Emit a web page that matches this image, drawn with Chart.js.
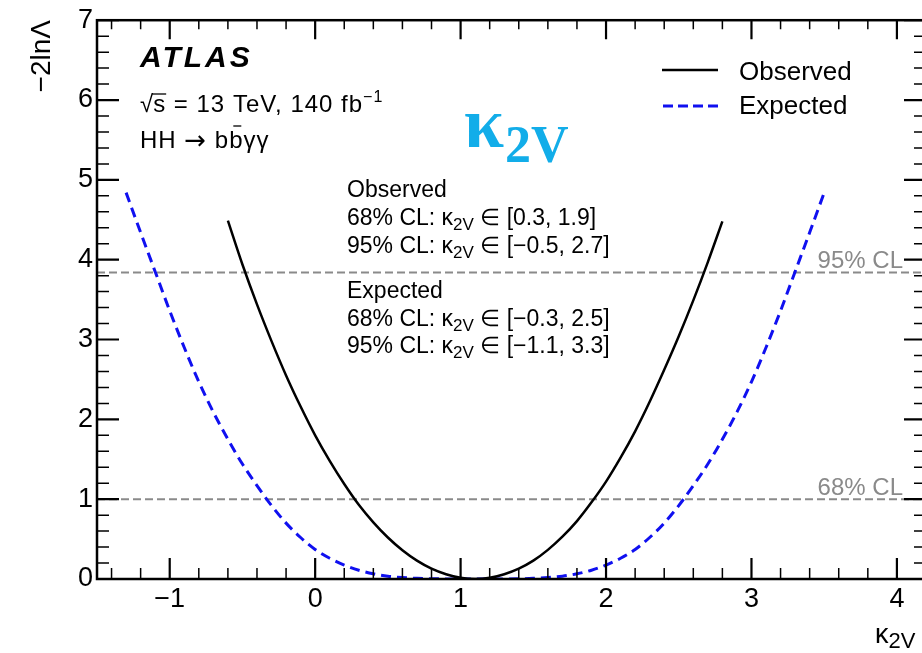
<!DOCTYPE html>
<html>
<head>
<meta charset="utf-8">
<title>kappa_2V likelihood scan</title>
<script src="https://cdn.jsdelivr.net/npm/chart.js@4"></script>
<style>
  html, body { margin: 0; padding: 0; background: #fff; overflow: hidden; }
  #wrap { position: relative; width: 930px; height: 653px; }
</style>
</head>
<body>
<div id="wrap"><canvas id="scan"></canvas></div>
<script>
// observed scan, -2lnL vs k2V
const kappaObs = [-0.6, -0.5, -0.4, -0.3, -0.2, -0.1, 0.0, 0.1, 0.2, 0.3, 0.4, 0.5, 0.6, 0.7, 0.8, 0.9, 1.0, 1.1,
  1.2, 1.3, 1.4, 1.5, 1.6, 1.7, 1.8, 1.9, 2.0, 2.1, 2.2, 2.3, 2.4, 2.5, 2.6, 2.7, 2.8];
const nllObs = [4.49, 3.94, 3.44, 2.98, 2.55, 2.16, 1.80, 1.48, 1.19, 0.93, 0.71, 0.52, 0.36, 0.23, 0.13, 0.06, 0.015, 0.0,
  0.015, 0.06, 0.13, 0.23, 0.365, 0.53, 0.725, 0.96, 1.22, 1.52, 1.85, 2.22, 2.62, 3.04, 3.49, 3.97, 4.48];

// expected scan (Asimov)
const kappaExp = [-1.3, -1.2, -1.1, -1.0, -0.9, -0.8, -0.7, -0.6, -0.5, -0.4, -0.3, -0.2, -0.1, 0.0, 0.1, 0.2, 0.3, 0.4,
  0.5, 0.6, 0.7, 0.8, 0.9, 1.0, 1.1, 1.2, 1.3, 1.4, 1.5, 1.6, 1.7, 1.8, 1.9, 2.0, 2.1, 2.2, 2.3, 2.4, 2.5, 2.6, 2.7,
  2.8, 2.9, 3.0, 3.1, 3.2, 3.3, 3.4, 3.5];
const nllExp = [4.84, 4.34, 3.85, 3.36, 2.90, 2.47, 2.09, 1.75, 1.44, 1.17, 0.92, 0.70, 0.52, 0.37, 0.26, 0.175, 0.11, 0.065,
  0.035, 0.018, 0.008, 0.003, 0.001, 0, 0, 0, 0.001, 0.003, 0.008, 0.018, 0.035, 0.065, 0.11, 0.175, 0.26, 0.37, 0.52, 0.70,
  0.92, 1.17, 1.44, 1.75, 2.09, 2.47, 2.90, 3.36, 3.85, 4.34, 4.84];

const xTicks = [-1, 0, 1, 2, 3, 4];
const yTicks = [0, 1, 2, 3, 4, 5, 6, 7];
const clLevels = [1.0, 3.84];
const clNames = ['68% CL', '95% CL'];
const xRange = [-1.5, 4.2];

const intervalText = [
  { head: 'Observed', rows: [['68% CL', '[0.3, 1.9]'], ['95% CL', '[\u22120.5, 2.7]']] },
  { head: 'Expected', rows: [['68% CL', '[\u22120.3, 2.5]'], ['95% CL', '[\u22121.1, 3.3]']] }
];

const SANS = "'Liberation Sans', Arial, Helvetica, sans-serif";
const SERIF = "'Liberation Serif', 'Times New Roman', serif";
const minus = v => (v < 0 ? '\u2212' + Math.abs(v) : String(v));

function toPoints(xs, ys) {
  return xs.map((x, i) => ({ x: x, y: ys[i] }));
}

// write a sequence of text pieces (sub/superscripts) left to right
function drawRuns(ctx, x, y, runs) {
  runs.forEach(r => {
    ctx.font = r.font;
    ctx.fillText(r.text, x, y + (r.dy || 0));
    x += ctx.measureText(r.text).width;
  });
  return x;
}

const decorations = {
  id: 'decorations',
  afterDatasetsDraw(chart) {
    const ctx = chart.ctx;
    const a = chart.chartArea;
    const xs = chart.scales.x, ys = chart.scales.y;
    ctx.save();

    // frame
    ctx.strokeStyle = '#000';
    ctx.lineWidth = 2.5;
    ctx.strokeRect(a.left, a.top, a.right - a.left, a.bottom - a.top);

    // inward ticks on all four sides, minor every 0.2
    for (let i = Math.ceil(xRange[0] * 5); i <= Math.floor(xRange[1] * 5); i++) {
      const major = i % 5 === 0;
      const len = major ? 21 : 11;
      const px = xs.getPixelForValue(i / 5);
      ctx.lineWidth = major ? 2.2 : 1.5;
      ctx.beginPath();
      ctx.moveTo(px, a.bottom); ctx.lineTo(px, a.bottom - len);
      ctx.moveTo(px, a.top); ctx.lineTo(px, a.top + len - 2);
      ctx.stroke();
    }
    for (let i = 0; i <= 35; i++) {
      const major = i % 5 === 0;
      const len = major ? 22 : 12;
      const py = ys.getPixelForValue(i / 5);
      ctx.lineWidth = major ? 2.2 : 1.5;
      ctx.beginPath();
      ctx.moveTo(a.left, py); ctx.lineTo(a.left + len, py);
      ctx.moveTo(a.right, py); ctx.lineTo(a.right - len, py);
      ctx.stroke();
    }

    // CL labels
    ctx.fillStyle = '#8a8a8a';
    ctx.font = '24px ' + SANS;
    ctx.textAlign = 'right';
    ctx.textBaseline = 'alphabetic';
    clLevels.forEach((lvl, i) => {
      ctx.fillText(clNames[i], 903, ys.getPixelForValue(lvl) - 4);
    });

    ctx.textAlign = 'left';
    ctx.fillStyle = '#000';

    // axis titles
    ctx.save();
    ctx.translate(50, 0);
    ctx.rotate(-Math.PI / 2);
    ctx.textAlign = 'right';
    ctx.font = '28px ' + SANS;
    ctx.fillText('\u22122ln\u039B', -20, 0);
    ctx.restore();
    drawRuns(ctx, 875, 643, [
      { text: '\u03BA', font: '27px ' + SANS },
      { text: '2V', font: '22px ' + SANS, dy: 5 }
    ]);

    // experiment label
    ctx.font = 'italic bold 30px ' + SANS;
    ctx.letterSpacing = '3px';
    ctx.fillText('ATLAS', 140, 67);

    ctx.letterSpacing = '1px';
    ctx.font = '24px ' + SANS;
    ctx.fillText('\u221A', 140, 112);
    const sx = 140 + ctx.measureText('\u221A').width - 1;
    drawRuns(ctx, sx, 112, [
      { text: 's', font: '24px ' + SANS },
      { text: ' = 13 TeV, 140 fb', font: '24px ' + SANS },
      { text: '\u22121', font: '16px ' + SANS, dy: -10 }
    ]);
    ctx.font = '24px ' + SANS;
    const sw = ctx.measureText('s').width;
    ctx.lineWidth = 1.3;
    ctx.beginPath();
    ctx.moveTo(sx - 1, 94); ctx.lineTo(sx + sw, 94);
    ctx.stroke();

    let hx = drawRuns(ctx, 140, 148, [{ text: 'HH ', font: '24px ' + SANS }]);
    hx = drawRuns(ctx, hx, 149, [{ text: '\u2192', font: "26px 'DejaVu Sans', sans-serif" }]);
    hx = drawRuns(ctx, hx, 148, [{ text: ' b', font: '24px ' + SANS }]);
    ctx.font = '24px ' + SANS;
    const bw = ctx.measureText('b').width;
    drawRuns(ctx, hx, 148, [{ text: 'b\u03B3\u03B3', font: '24px ' + SANS }]);
    ctx.beginPath();
    ctx.moveTo(hx + bw / 2 - 3, 126); ctx.lineTo(hx + bw / 2 + 5, 126);
    ctx.stroke();
    ctx.letterSpacing = '0px';

    // legend
    ctx.lineWidth = 2.5;
    ctx.strokeStyle = '#000';
    ctx.beginPath(); ctx.moveTo(662, 70); ctx.lineTo(718, 70); ctx.stroke();
    ctx.strokeStyle = '#1010f0';
    ctx.lineWidth = 3;
    ctx.setLineDash([10, 5]);
    ctx.beginPath(); ctx.moveTo(663, 106); ctx.lineTo(718, 106); ctx.stroke();
    ctx.setLineDash([]);
    ctx.font = '26px ' + SANS;
    ctx.fillText('Observed', 739, 80);
    ctx.fillText('Expected', 739, 114);

    // big coupling label
    ctx.fillStyle = '#12ade9';
    const kx = drawRuns(ctx, 464, 147, [{ text: '\u03BA', font: 'bold 72px ' + SERIF }]);
    drawRuns(ctx, kx + 1, 162, [{ text: '2V', font: 'bold 52px ' + SERIF }]);

    // interval summary
    ctx.fillStyle = '#000';
    const base = [[197, 225, 253], [298, 326, 353]];
    intervalText.forEach((blk, b) => {
      ctx.font = '23px ' + SANS;
      ctx.fillText(blk.head, 347, base[b][0]);
      blk.rows.forEach((r, j) => {
        drawRuns(ctx, 347, base[b][j + 1], [
          { text: r[0] + ': \u03BA', font: '23px ' + SANS },
          { text: '2V', font: '17px ' + SANS, dy: 5 },
          { text: ' \u2208 ' + r[1], font: '23px ' + SANS }
        ]);
      });
    });

    ctx.restore();
  }
};

const clSets = clLevels.map(lvl => ({
  data: [{ x: xRange[0], y: lvl }, { x: xRange[1], y: lvl }],
  borderColor: '#8a8a8a',
  borderWidth: 2,
  borderDash: [8, 4],
  pointRadius: 0,
  order: 3
}));

new Chart(document.getElementById('scan'), {
  type: 'line',
  data: {
    datasets: [
      {
        label: 'Observed',
        data: toPoints(kappaObs, nllObs),
        borderColor: '#000',
        borderWidth: 2.5,
        cubicInterpolationMode: 'monotone',
        pointRadius: 0,
        order: 0
      },
      {
        label: 'Expected',
        data: toPoints(kappaExp, nllExp),
        borderColor: '#1010f0',
        borderWidth: 3,
        borderDash: [10, 6],
        cubicInterpolationMode: 'monotone',
        pointRadius: 0,
        order: 1
      }
    ].concat(clSets)
  },
  options: {
    responsive: true,
    maintainAspectRatio: false,
    animation: false,
    events: [],
    layout: { padding: { top: 16, right: 4, left: 0, bottom: 0 } },
    plugins: { legend: { display: false }, tooltip: { enabled: false } },
    scales: {
      x: {
        type: 'linear',
        min: xRange[0],
        max: xRange[1],
        grid: { display: false, drawTicks: false },
        border: { display: false },
        afterBuildTicks: s => { s.ticks = xTicks.map(v => ({ value: v })); },
        afterFit: s => { s.height = 74; },
        ticks: {
          color: '#000',
          padding: 4,
          maxRotation: 0,
          font: { family: SANS, size: 27 },
          callback: v => minus(v)
        }
      },
      y: {
        type: 'linear',
        min: 0,
        max: 7,
        grid: { display: false, drawTicks: false },
        border: { display: false },
        afterBuildTicks: s => { s.ticks = yTicks.map(v => ({ value: v })); },
        afterFit: s => { s.width = 97; },
        ticks: {
          color: '#000',
          padding: 4,
          font: { family: SANS, size: 27 },
          callback: v => minus(v)
        }
      }
    }
  },
  plugins: [decorations]
});
</script>
</body>
</html>
